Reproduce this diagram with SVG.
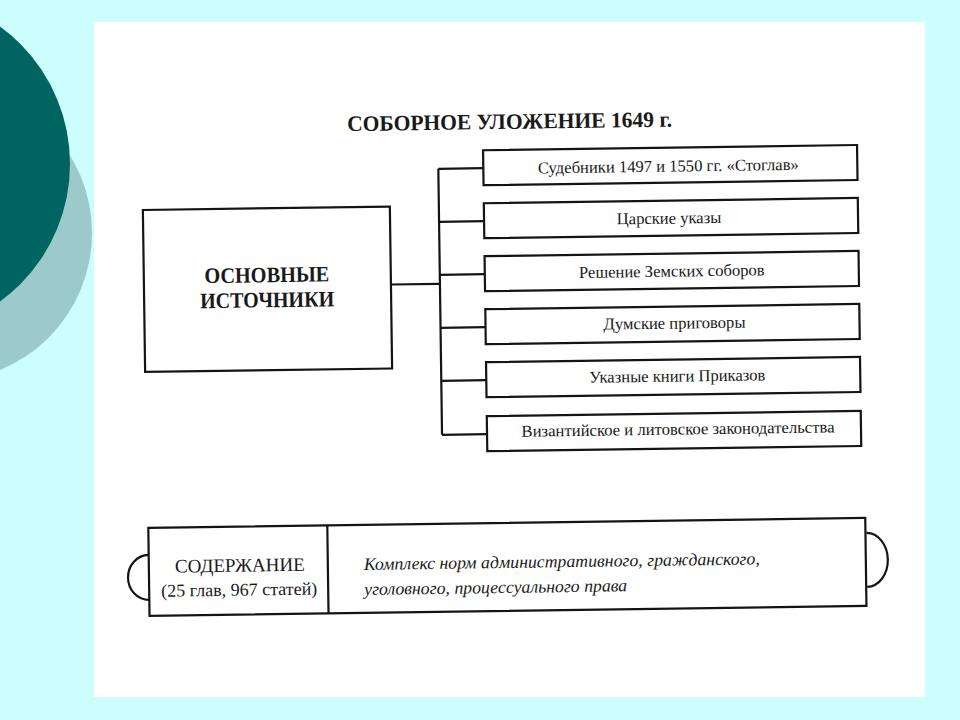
<svg xmlns="http://www.w3.org/2000/svg" width="960" height="720" viewBox="0 0 960 720">
<style>
.box{fill:#ffffff;stroke:#141414;stroke-width:2.2}
.ln{fill:none;stroke:#141414;stroke-width:2.2}
.t{font-family:"Liberation Serif","Times New Roman",serif;fill:#1a1a1a;text-anchor:middle}
.s{font-size:16.6px}
.b{font-weight:bold}
.i{font-style:italic;text-anchor:start}
</style>
<rect x="0" y="0" width="960" height="720" fill="#ccfefe"/>
<circle cx="-56" cy="233" r="148" fill="#9ccaca"/>
<circle cx="-100" cy="164" r="170" fill="#006560"/>
<rect x="94" y="22" width="831" height="675" fill="#ffffff"/>
<g transform="rotate(-0.8 500 360)">
  <g id="title">
    <text class="t b" x="513" y="129" font-size="22" textLength="325" lengthAdjust="spacingAndGlyphs">СОБОРНОЕ УЛОЖЕНИЕ 1649 г.</text>
  </g>
  <g id="connectors">
    <line class="ln" x1="392" y1="283" x2="441" y2="283"/>
    <line class="ln" x1="441" y1="168" x2="441" y2="434"/>
    <line class="ln" x1="441" y1="168" x2="486" y2="168"/>
    <line class="ln" x1="441" y1="221" x2="486" y2="221"/>
    <line class="ln" x1="441" y1="274" x2="486" y2="274"/>
    <line class="ln" x1="441" y1="327" x2="486" y2="327"/>
    <line class="ln" x1="441" y1="380" x2="486" y2="380"/>
    <line class="ln" x1="441" y1="434" x2="486" y2="434"/>
  </g>
  <g id="main">
    <rect class="box" x="145" y="205" width="247" height="162"/>
    <text class="t b" x="268" y="279" font-size="22" textLength="125" lengthAdjust="spacingAndGlyphs">ОСНОВНЫЕ</text>
    <text class="t b" x="268" y="304" font-size="22" textLength="134" lengthAdjust="spacingAndGlyphs">ИСТОЧНИКИ</text>
  </g>
  <g id="src1">
    <rect class="box" x="486" y="150" width="374" height="35"/>
    <text class="t s" x="671" y="174">Судебники 1497 и 1550 гг. «Стоглав»</text>
  </g>
  <g id="src2">
    <rect class="box" x="486" y="203" width="374" height="35"/>
    <text class="t s" x="671" y="226">Царские указы</text>
  </g>
  <g id="src3">
    <rect class="box" x="486" y="256" width="374" height="35"/>
    <text class="t s" x="673" y="279">Решение Земских соборов</text>
  </g>
  <g id="src4">
    <rect class="box" x="486" y="309" width="374" height="35"/>
    <text class="t s" x="675" y="331">Думские приговоры</text>
  </g>
  <g id="src5">
    <rect class="box" x="486" y="362" width="374" height="35"/>
    <text class="t s" x="677" y="384">Указные книги Приказов</text>
  </g>
  <g id="src6">
    <rect class="box" x="486" y="416" width="374" height="35"/>
    <text class="t s" x="677" y="437" textLength="313" lengthAdjust="spacingAndGlyphs">Византийское и литовское законодательства</text>
  </g>
  <g id="content">
    <path class="ln" d="M146 550 A21 22.5 0 0 0 146 595"/>
    <path class="ln" d="M864 538 A21 27 0 0 1 864 592"/>
    <rect class="box" x="146" y="523" width="717" height="88"/>
    <line class="ln" x1="325" y1="523" x2="325" y2="611"/>
    <text class="t" x="237" y="568" font-size="19">СОДЕРЖАНИЕ</text>
    <text class="t" x="236" y="592" font-size="18">(25 глав, 967 статей)</text>
    <text class="t i" x="361" y="568" font-size="17.5" textLength="396" lengthAdjust="spacingAndGlyphs">Комплекс норм административного, гражданского,</text>
    <text class="t i" x="361" y="593" font-size="17.5" textLength="263" lengthAdjust="spacingAndGlyphs">уголовного, процессуального права</text>
  </g>
</g>
</svg>
